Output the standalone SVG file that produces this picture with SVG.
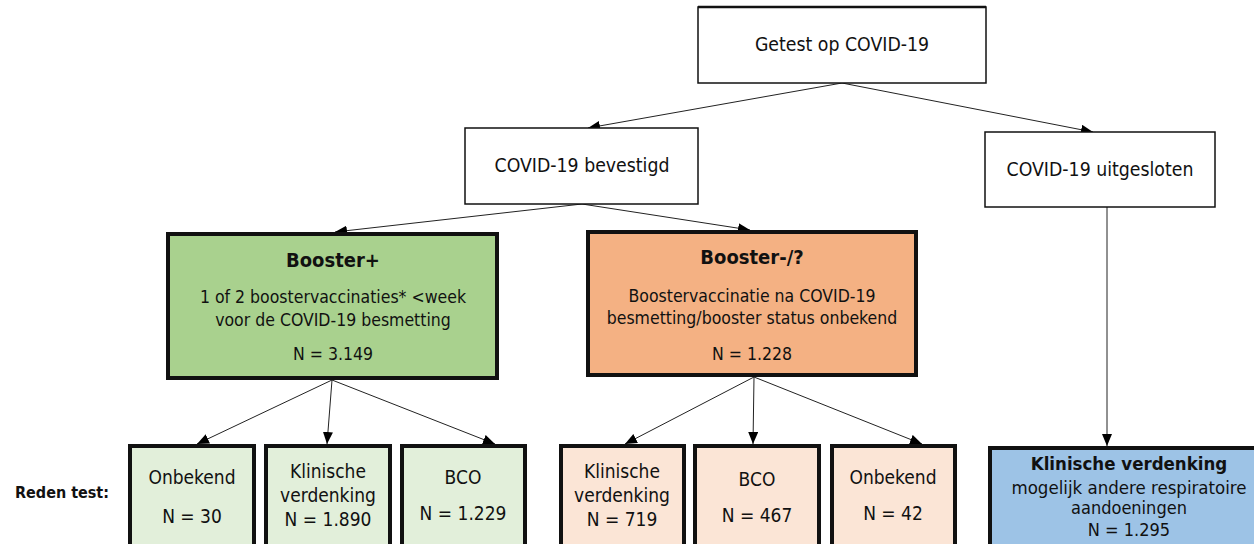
<svg xmlns="http://www.w3.org/2000/svg" width="1254" height="544" viewBox="0 0 1254 544">
<defs>
<style>
text{font-family:"DejaVu Sans Condensed","DejaVu Sans",sans-serif;fill:#111;text-anchor:middle}
.w{fill:#fff;stroke:#111;stroke-width:1.5}
.t{font-size:19.3px}
.b{font-weight:bold}
.big{stroke:#111;stroke-width:4}
.s{font-size:17.5px}
.sm{stroke:#111;stroke-width:4}
.bt{font-size:19px}
.c{stroke:#222;stroke-width:1;fill:none;marker-end:url(#ah)}
</style>
<marker id="ah" viewBox="0 0 12 10" refX="12" refY="5" markerWidth="12" markerHeight="10" markerUnits="userSpaceOnUse" orient="auto">
<path d="M0,0 L12,5 L0,10 z" fill="#000"/>
</marker>
</defs>
<rect width="1254" height="544" fill="#fff"/>
<g id="connectors">
<line class="c" x1="842" y1="83" x2="588" y2="128"/>
<line class="c" x1="842" y1="83" x2="1093" y2="132"/>
<line class="c" x1="582" y1="204" x2="335" y2="232"/>
<line class="c" x1="582" y1="204" x2="750" y2="230"/>
<line class="c" x1="332" y1="380" x2="197" y2="444"/>
<line class="c" x1="332" y1="380" x2="327" y2="444"/>
<line class="c" x1="332" y1="380" x2="495" y2="444"/>
<line class="c" x1="754" y1="377" x2="625" y2="444"/>
<line class="c" x1="754" y1="377" x2="753" y2="444"/>
<line class="c" x1="754" y1="377" x2="922" y2="444"/>
<line class="c" x1="1107" y1="207" x2="1107" y2="446"/>
</g>
<g id="getest">
<rect class="w" x="698" y="7" width="288" height="76"/>
<line x1="698" y1="7" x2="986" y2="7" stroke="#111" stroke-width="2.5"/>
<text class="t" x="842" y="51">Getest op COVID-19</text>
</g>
<g id="bevestigd">
<rect class="w" x="465" y="128" width="233" height="76"/>
<text class="t" x="582" y="172">COVID-19 bevestigd</text>
</g>
<g id="uitgesloten">
<rect class="w" x="985" y="132" width="230" height="75"/>
<text class="t" x="1100" y="176">COVID-19 uitgesloten</text>
</g>
<g id="boosterplus">
<rect class="big" x="168" y="234" width="329" height="144" fill="#a9d18e"/>
<text class="b" x="333" y="267" style="font-size:20px">Booster+</text>
<text class="s" x="333" y="303">1 of 2 boostervaccinaties* &lt;week</text>
<text class="s" x="333" y="326">voor de COVID-19 besmetting</text>
<text class="s" x="333" y="360">N = 3.149</text>
</g>
<g id="boostermin">
<rect class="big" x="588" y="232" width="328" height="143" fill="#f4b183"/>
<text class="b" x="752" y="264" style="font-size:20px">Booster-/?</text>
<text class="s" x="752" y="302">Boostervaccinatie na COVID-19</text>
<text class="s" x="752" y="324">besmetting/booster status onbekend</text>
<text class="s" x="752" y="360">N = 1.228</text>
</g>
<text class="b" x="62" y="498" style="font-size:16px">Reden test:</text>
<g id="g-onbekend">
<rect class="sm" x="130" y="446" width="124" height="110" fill="#e2efda"/>
<text class="bt" x="192" y="484">Onbekend</text>
<text class="bt" x="192" y="523">N = 30</text>
</g>
<g id="g-klinisch">
<rect class="sm" x="266" y="446" width="124" height="110" fill="#e2efda"/>
<text class="bt" x="328" y="478">Klinische</text>
<text class="bt" x="328" y="502">verdenking</text>
<text class="bt" x="328" y="526">N = 1.890</text>
</g>
<g id="g-bco">
<rect class="sm" x="402" y="446" width="123" height="110" fill="#e2efda"/>
<text class="bt" x="463" y="484">BCO</text>
<text class="bt" x="463" y="520">N = 1.229</text>
</g>
<g id="p-klinisch">
<rect class="sm" x="561" y="446" width="123" height="110" fill="#fbe5d6"/>
<text class="bt" x="622" y="478">Klinische</text>
<text class="bt" x="622" y="502">verdenking</text>
<text class="bt" x="622" y="526">N = 719</text>
</g>
<g id="p-bco">
<rect class="sm" x="695" y="446" width="124" height="110" fill="#fbe5d6"/>
<text class="bt" x="757" y="486">BCO</text>
<text class="bt" x="757" y="522">N = 467</text>
</g>
<g id="p-onbekend">
<rect class="sm" x="832" y="446" width="123" height="110" fill="#fbe5d6"/>
<text class="bt" x="893" y="484">Onbekend</text>
<text class="bt" x="893" y="520">N = 42</text>
</g>
<g id="blauw">
<rect class="sm" x="990" y="448" width="280" height="110" fill="#9dc3e6"/>
<text class="b" x="1129" y="470" style="font-size:18.5px">Klinische verdenking</text>
<text x="1129" y="494" style="font-size:18.5px">mogelijk andere respiratoire</text>
<text x="1129" y="514" style="font-size:18px">aandoeningen</text>
<text x="1129" y="536" style="font-size:18px">N = 1.295</text>
</g>
</svg>
